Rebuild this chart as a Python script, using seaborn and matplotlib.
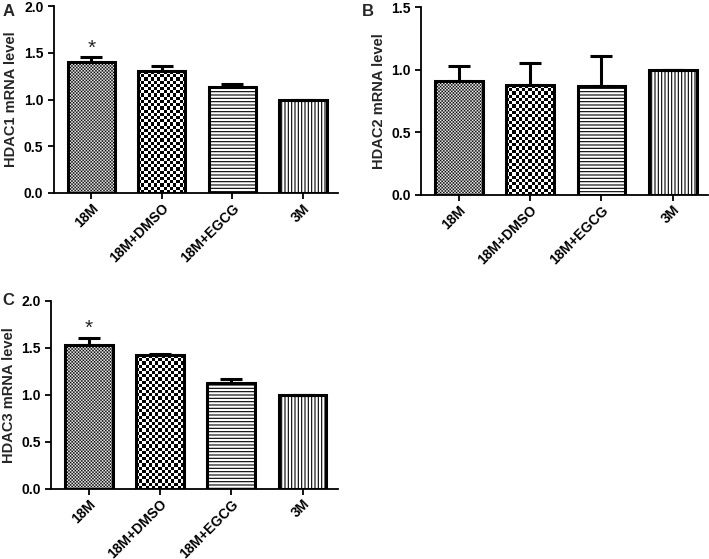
import numpy as np
import pandas as pd
import matplotlib
matplotlib.use('Agg')
import matplotlib.pyplot as plt
import seaborn as sns

# Data
categories = ['18M', '18M+DMSO', '18M+EGCG', '3M']
hdac1_mean = [1.40, 1.30, 1.13, 1.00]
hdac1_err = [0.05, 0.06, 0.04, 0.0]
hdac2_mean = [0.91, 0.88, 0.87, 1.00]
hdac2_err = [0.12, 0.17, 0.24, 0.0]
hdac3_mean = [1.53, 1.42, 1.12, 1.00]
hdac3_err = [0.07, 0.015, 0.045, 0.0]
significant = [True, False, False, False]

sns.set_style('ticks')
plt.rcParams['font.family'] = ['Liberation Sans', 'DejaVu Sans']
plt.rcParams['font.weight'] = 'bold'
plt.rcParams['hatch.linewidth'] = 0.8
plt.rcParams['hatch.color'] = '#333333'

DPI = 100
fig = plt.figure(figsize=(7.09, 5.59), dpi=DPI)

# bar fills: fine checker, coarse checker, horizontal lines, vertical lines
fills = [('checker', 1.6), ('checker', 3.2), ('hatch', '-----'), ('hatch', '|||||')]


def checker_fill(ax, patch, cell_px):
    """Paint a checkerboard texture clipped to a bar."""
    x0, y0 = patch.get_x(), patch.get_y()
    x1, y1 = x0 + patch.get_width(), y0 + patch.get_height()
    p0 = ax.transData.transform((x0, y0))
    p1 = ax.transData.transform((x1, y1))
    nx = max(1, int(round(abs(p1[0] - p0[0]) / cell_px)))
    ny = max(1, int(round(abs(p1[1] - p0[1]) / cell_px)))
    grid = (np.add.outer(np.arange(ny), np.arange(nx)) % 2).astype(float)
    im = ax.imshow(grid, cmap='gray', vmin=0, vmax=1, extent=(x0, x1, y0, y1),
                   aspect='auto', interpolation='antialiased', zorder=0.5)
    im.set_clip_path(patch)


def draw_panel(rect, means, errs, ylabel, ymax, letter, letter_pos):
    ax = fig.add_axes(rect)
    df = pd.DataFrame({'group': categories, 'value': means})
    sns.barplot(data=df, x='group', y='value', order=categories, color='white',
                width=0.67, edgecolor='black', linewidth=2.2, errorbar=None,
                saturation=1, ax=ax)
    ax.set_xlim(-0.53, 3.5)
    ax.set_ylim(0, ymax)
    ax.set_yticks(np.arange(0, ymax + 0.01, 0.5))
    ax.set_yticklabels([f'{t:.1f}' for t in np.arange(0, ymax + 0.01, 0.5)])

    centers = []
    for patch, (kind, spec) in zip(ax.patches, fills):
        patch.set_zorder(2)
        centers.append(patch.get_x() + patch.get_width() / 2)
        if kind == 'checker':
            patch.set_facecolor('none')
            checker_fill(ax, patch, spec)
        else:
            patch.set_hatch(spec)
    ax.set_xlim(-0.53, 3.5)
    ax.set_ylim(0, ymax)

    ax.errorbar(centers, means, yerr=[np.zeros(len(errs)), errs], fmt='none',
                ecolor='black', elinewidth=2.2, capsize=8, capthick=2.2, zorder=3)

    for c, m, e, s in zip(centers, means, errs, significant):
        if s and ymax > 1.5:
            ax.annotate('*', (c, m + e), xytext=(0, 0), textcoords='offset points',
                        ha='center', va='bottom', fontsize=15, fontweight='normal')

    sns.despine(ax=ax)
    for side in ['left', 'bottom']:
        ax.spines[side].set_linewidth(1.3)
        ax.spines[side].set_color('black')
    ax.tick_params(axis='both', width=1.3, length=4, color='black',
                   labelsize=10, labelcolor='black')
    ax.tick_params(axis='x', pad=2)
    ax.set_xlabel('')
    ax.set_ylabel(ylabel, fontsize=10.5, fontweight='bold', labelpad=4)
    plt.setp(ax.get_xticklabels(), rotation=45, ha='right', rotation_mode='anchor',
             fontweight='bold')
    plt.setp(ax.get_yticklabels(), fontweight='bold')
    fig.text(letter_pos[0], letter_pos[1], letter, fontsize=12, fontweight='bold',
             ha='left', va='top')
    return ax


draw_panel([0.076, 0.655, 0.401, 0.334], hdac1_mean, hdac1_err,
           'HDAC1 mRNA level', 2.0, 'A', (0.003, 0.993))
draw_panel([0.594, 0.652, 0.405, 0.335], hdac2_mean, hdac2_err,
           'HDAC2 mRNA level', 1.5, 'B', (0.511, 0.993))
draw_panel([0.072, 0.126, 0.405, 0.336], hdac3_mean, hdac3_err,
           'HDAC3 mRNA level', 2.0, 'C', (0.003, 0.476))

fig.savefig('out.png', dpi=DPI)
plt.close(fig)
